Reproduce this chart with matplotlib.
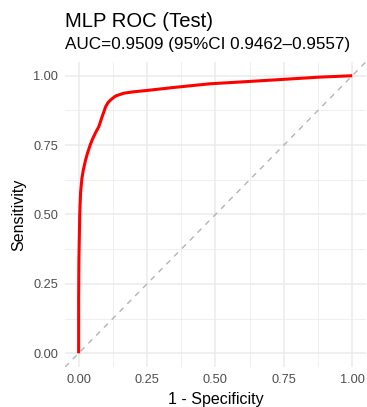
import numpy as np
import matplotlib.pyplot as plt

# ROC points (1 - specificity, sensitivity)
fpr = [0.0, 0.0, 0.001, 0.004, 0.007, 0.012, 0.017, 0.025, 0.032, 0.042, 0.05, 0.062,
       0.074, 0.085, 0.099, 0.108, 0.117, 0.135, 0.165, 0.2, 0.25, 0.35, 0.48, 0.6,
       0.75, 0.88, 1.0]
tpr = [0.0, 0.2, 0.336, 0.5, 0.578, 0.63, 0.66, 0.695, 0.72, 0.75, 0.77, 0.795,
       0.817, 0.85, 0.889, 0.904, 0.913, 0.927, 0.937, 0.942, 0.947, 0.958, 0.971, 0.978,
       0.987, 0.995, 1.0]

title = "MLP ROC (Test)"
subtitle = "AUC=0.9509 (95%CI 0.9462\u20130.9557)"
ticks = [0.0, 0.25, 0.5, 0.75, 1.0]
tick_labels = ["0.00", "0.25", "0.50", "0.75", "1.00"]
minor_ticks = [0.125, 0.375, 0.625, 0.875]

plt.rcParams['font.family'] = ['Liberation Sans', 'DejaVu Sans']

fig = plt.figure(figsize=(3.67, 4.07), dpi=100)
ax = fig.add_axes([0.177, 0.098, 0.82, 0.75])

ax.set_xlim(-0.05, 1.05)
ax.set_ylim(-0.05, 1.05)

# grid like theme_minimal
for t in minor_ticks:
    ax.axvline(t, color='#EBEBEB', lw=0.55, zorder=0)
    ax.axhline(t, color='#EBEBEB', lw=0.55, zorder=0)
for t in ticks:
    ax.axvline(t, color='#EBEBEB', lw=1.1, zorder=0)
    ax.axhline(t, color='#EBEBEB', lw=1.1, zorder=0)

ax.plot([-0.05, 1.05], [-0.05, 1.05], color='#B3B3B3', lw=1.0, ls=(0, (4, 4)), zorder=1)
ax.plot(fpr, tpr, color='#FF0000', lw=2.2, solid_capstyle='butt', zorder=2)

ax.set_xticks(ticks)
ax.set_xticklabels(tick_labels)
ax.set_yticks(ticks)
ax.set_yticklabels(tick_labels)
ax.tick_params(length=0, labelsize=9.2, labelcolor='#4D4D4D', pad=5)
for s in ax.spines.values():
    s.set_visible(False)

ax.set_xlabel("1 - Specificity", fontsize=11.5, labelpad=4)
ax.set_ylabel("Sensitivity", fontsize=11.5, labelpad=5)

fig.text(0.177, 0.934, title, fontsize=14.6, ha='left', va='baseline')
fig.text(0.177, 0.880, subtitle, fontsize=12.3, ha='left', va='baseline')

fig.savefig("out.png", dpi=100, facecolor='white')
